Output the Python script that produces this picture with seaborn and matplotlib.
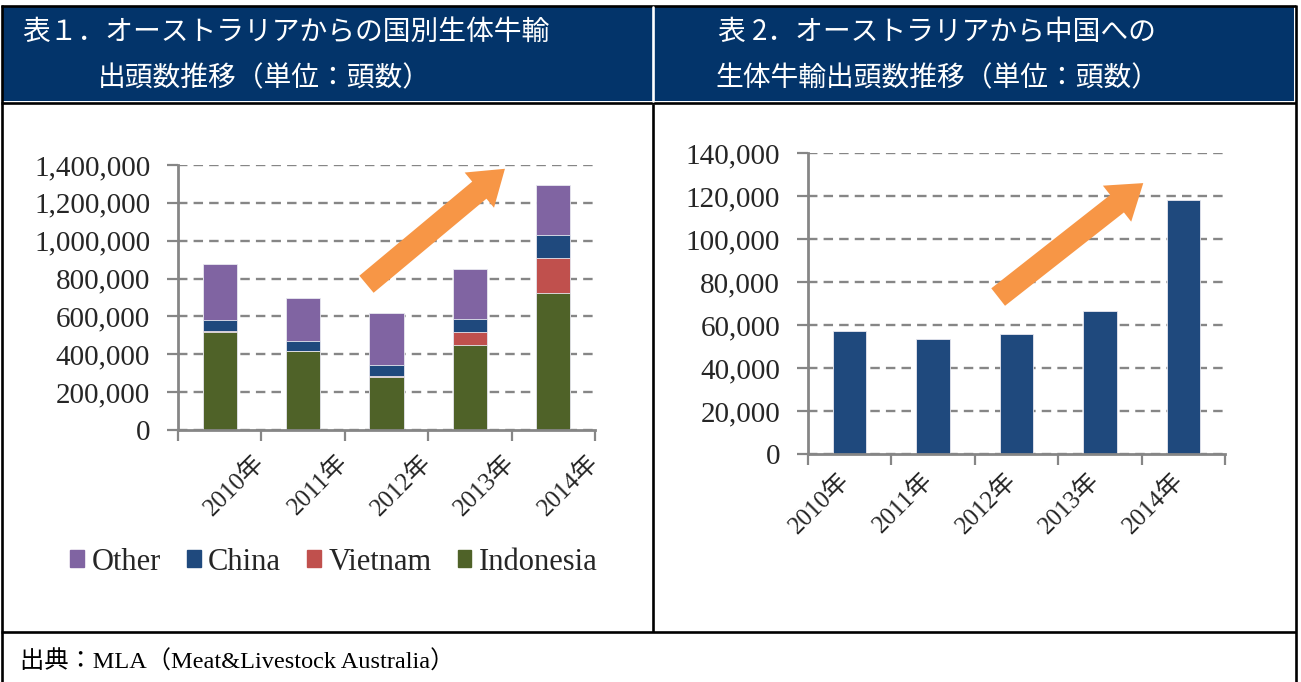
import matplotlib.pyplot as plt
import matplotlib.patches as mpatches
from matplotlib.lines import Line2D
from matplotlib.ticker import FuncFormatter, FixedLocator
from matplotlib.transforms import ScaledTranslation
import pandas as pd
import seaborn as sns

# data
YEARS = ["2010年", "2011年", "2012年", "2013年", "2014年"]
INDONESIA = [520000, 415000, 279000, 451000, 725000]
VIETNAM = [5000, 2000, 6000, 69000, 185000]
CHINA = [57000, 53500, 56000, 66500, 118000]
OTHER = [293000, 224500, 278000, 262500, 266000]

LEFT_TICKS = [0, 200000, 400000, 600000, 800000, 1000000, 1200000, 1400000]
RIGHT_TICKS = [0, 20000, 40000, 60000, 80000, 100000, 120000, 140000]

TITLE_L = ["表１．オーストラリアからの国別生体牛輸", "出頭数推移（単位：頭数）"]
TITLE_R = ["表 2．オーストラリアから中国への", "生体牛輸出頭数推移（単位：頭数）"]
SOURCE = "出典：MLA（Meat&Livestock Australia）"

COLORS = {"Indonesia": "#4F6228", "Vietnam": "#C0504D", "China": "#1F497D", "Other": "#8064A2"}
NAVY = "#03346A"
GRID = "#868686"
ORANGE = "#F79646"

W, H = 1301, 682

sns.set_theme(style="white")
plt.rcParams["font.family"] = ["Liberation Serif", "Noto Sans CJK JP", "DejaVu Sans"]


def fx(x):
    return x / W


def fy(y):
    return 1 - y / H


def style_axes(ax, ticks, shift):
    ax.set_xlim(-0.5, 4.5)
    ax.set_ylim(0, ticks[-1])
    ax.yaxis.set_major_locator(FixedLocator(ticks))
    ax.yaxis.set_major_formatter(FuncFormatter(lambda v, p: f"{v:,.0f}"))
    ax.grid(axis="y", color=GRID, linestyle=(0, (4, 2.6)), linewidth=1.7, zorder=0)
    ax.set_axisbelow(True)
    for s in ("top", "right"):
        ax.spines[s].set_visible(False)
    for s in ("left", "bottom"):
        ax.spines[s].set_color(GRID)
        ax.spines[s].set_linewidth(2)
    ax.xaxis.set_minor_locator(FixedLocator([-0.5, 0.5, 1.5, 2.5, 3.5, 4.5]))
    ax.tick_params(axis="x", which="major", length=0, pad=4)
    ax.tick_params(axis="x", which="minor", length=8, width=1.6, color=GRID, bottom=True)
    ax.tick_params(axis="y", length=8, width=1.6, color=GRID, left=True, pad=12,
                   labelsize=21)
    ax.set_xticks(range(len(YEARS)))
    ax.set_xticklabels(YEARS, rotation=45, ha="right", va="top",
                       rotation_mode="anchor", fontsize=18)
    off = ScaledTranslation(shift[0] / 100, -shift[1] / 100, fig.dpi_scale_trans)
    for lab in ax.get_xticklabels():
        lab.set_transform(lab.get_transform() + off)
    ax.set_xlabel("")
    ax.set_ylabel("")


def arrow(ax, start, end):
    a = mpatches.FancyArrowPatch(
        start, end, transform=ax.transData, clip_on=False, zorder=5,
        arrowstyle=mpatches.ArrowStyle.Simple(head_length=2.4, head_width=3.3, tail_width=1.6),
        mutation_scale=10, color=ORANGE, shrinkA=0, shrinkB=0, linewidth=0,
    )
    ax.add_patch(a)


fig = plt.figure(figsize=(W / 100, H / 100), dpi=100)

# frame + header band
fig.add_artist(mpatches.Rectangle((fx(3), fy(101)), fx(1291), 94 / H, transform=fig.transFigure,
                                  facecolor=NAVY, edgecolor="none", zorder=0))
lw = 1.9
for x0, y0, x1, y1 in [(1, 6, 1296, 6), (1, 102.5, 1296, 102.5), (1, 632, 1296, 632),
                       (2, 5, 2, 682), (1295.5, 5, 1295.5, 682), (653, 104, 653, 632)]:
    fig.add_artist(Line2D([fx(x0), fx(x1)], [fy(y0), fy(y1)], transform=fig.transFigure,
                          color="black", linewidth=lw, solid_capstyle="butt"))
fig.add_artist(Line2D([fx(653), fx(653)], [fy(7), fy(101)], transform=fig.transFigure,
                      color="white", linewidth=lw))

hdr = dict(color="white", fontsize=20, va="center", ha="left",
           family=["Noto Sans CJK JP", "DejaVu Sans"])
fig.text(fx(22), fy(32), TITLE_L[0], **hdr)
fig.text(fx(98), fy(78), TITLE_L[1], **hdr)
fig.text(fx(718), fy(32), TITLE_R[0], **hdr)
fig.text(fx(715), fy(78), TITLE_R[1], **hdr)
fig.text(fx(20), fy(662), SOURCE, fontsize=17.5, va="center", ha="left", color="black")

# left: stacked bars by destination
axl = fig.add_axes([fx(178), fy(430), fx(595) - fx(178), (430 - 165) / H])
layers = pd.DataFrame({"year": YEARS, "Indonesia": INDONESIA, "Vietnam": VIETNAM,
                       "China": CHINA, "Other": OTHER})
cum = layers[["Indonesia", "Vietnam", "China", "Other"]].cumsum(axis=1)
for name in ["Other", "China", "Vietnam", "Indonesia"]:
    sns.barplot(x=layers["year"], y=cum[name], color=COLORS[name], width=0.41,
                saturation=1, edgecolor="#E8E8F0", linewidth=0.6, ax=axl, zorder=2)
style_axes(axl, LEFT_TICKS, (33, 15))
arrow(axl, (1.76, 770000), (3.42, 1380000))

handles = [mpatches.Patch(color=COLORS[n], label=n) for n in ["Other", "China", "Vietnam", "Indonesia"]]
fig.legend(handles=handles, loc="center", bbox_to_anchor=(fx(334), fy(562)), ncol=4,
           frameon=False, fontsize=22, handlelength=0.45, handleheight=0.45,
           handletextpad=0.25, columnspacing=0.85, borderpad=0)

# right: China only
axr = fig.add_axes([fx(808), fy(454), fx(1225) - fx(808), (454 - 153) / H])
sns.barplot(x=YEARS, y=CHINA, color=COLORS["China"], width=0.40, saturation=1,
            edgecolor="#E8E8F0", linewidth=0.6, ax=axr, zorder=2)
style_axes(axr, RIGHT_TICKS, (-12, 9))
arrow(axr, (1.78, 73000), (3.52, 126000))

fig.savefig("out.png", dpi=100)
